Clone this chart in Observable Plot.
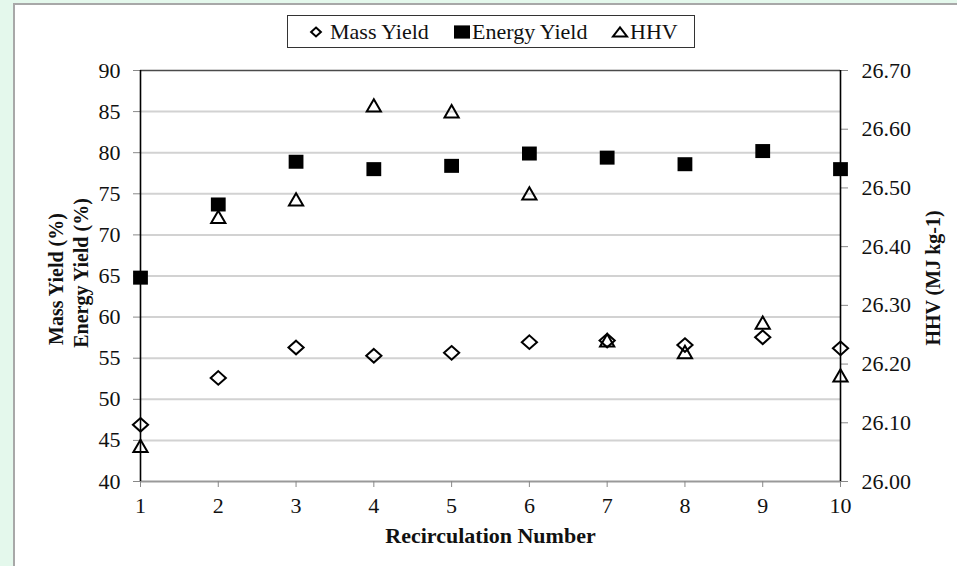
<!DOCTYPE html>
<html>
<head>
<meta charset="utf-8">
<script src="https://cdn.jsdelivr.net/npm/d3@7"></script>
<script src="https://cdn.jsdelivr.net/npm/@observablehq/plot@0.6"></script>
<style>
  html, body { margin:0; padding:0; width:957px; height:566px; overflow:hidden; background:#e4f8ec; }
  #panel { position:absolute; left:13px; top:3px; width:960px; height:580px; background:#fff;
           border-left:2px solid #a8a8a8; border-top:2px solid #a8a8a8; }
  #chart { position:absolute; left:0; top:0; }
  #chart text { font-family:"Liberation Serif","Times New Roman",serif; }
  #legend { position:absolute; left:287px; top:15px; width:406px; height:31px; border:1.5px solid #333; background:#fff;
            font-family:"Liberation Serif","Times New Roman",serif; font-size:22px; color:#111; }
  #legend .item { position:absolute; top:0; height:31px; line-height:31px; white-space:nowrap; }
  #legend svg { position:absolute; overflow:visible; }
</style>
</head>
<body>
<div id="panel"></div>
<div id="chart"></div>
<div id="legend"></div>
<script>
// ---- data ----
const rounds = [1, 2, 3, 4, 5, 6, 7, 8, 9, 10];
const massYield   = [46.9, 52.6, 56.3, 55.3, 55.65, 56.95, 57.15, 56.6, 57.55, 56.2];
const energyYield = [64.8, 73.7, 78.9, 78.0, 78.4, 79.9, 79.4, 78.6, 80.2, 78.0];
const hhv         = [26.06, 26.45, 26.48, 26.64, 26.63, 26.49, 26.24, 26.22, 26.27, 26.18];
const leftTicks  = [40, 45, 50, 55, 60, 65, 70, 75, 80, 85, 90];
const rightTicks = [26.0, 26.1, 26.2, 26.3, 26.4, 26.5, 26.6, 26.7];
const seriesNames = ["Mass Yield", "Energy Yield", "HHV"];

const leftDomain = [40, 90];
const rightDomain = [26.0, 26.7];
const toLeft = v => leftDomain[0] + (v - rightDomain[0]) * (leftDomain[1] - leftDomain[0]) / (rightDomain[1] - rightDomain[0]);
const fromLeft = v => rightDomain[0] + (v - leftDomain[0]) * (rightDomain[1] - rightDomain[0]) / (leftDomain[1] - leftDomain[0]);

const data = rounds.map((r, i) => ({r, mass: massYield[i], energy: energyYield[i], hhv: toLeft(hhv[i])}));

// marker shapes (the source figure is slightly wider than tall)
const symDiamond = {draw(ctx) { const w = 7.6, h = 6.8; ctx.moveTo(0, -h); ctx.lineTo(w, 0); ctx.lineTo(0, h); ctx.lineTo(-w, 0); ctx.closePath(); }};
const symSquare = {draw(ctx) { const w = 7.4, h = 7; ctx.moveTo(-w, -h); ctx.lineTo(w, -h); ctx.lineTo(w, h); ctx.lineTo(-w, h); ctx.closePath(); }};
const symTriangle = {draw(ctx) { ctx.moveTo(0, -6.5); ctx.lineTo(7.1, 5.8); ctx.lineTo(-7.1, 5.8); ctx.closePath(); }};

const serif = "'Liberation Serif', 'Times New Roman', serif";

const chart = Plot.plot({
  width: 957,
  height: 566,
  marginTop: 70,
  marginBottom: 85,
  marginLeft: 140,
  marginRight: 117,
  style: {fontFamily: serif, fontSize: "22px", color: "#111", background: "transparent", overflow: "visible"},
  x: {domain: [1, 10]},
  y: {domain: leftDomain},
  marks: [
    Plot.gridY(leftTicks.filter(d => d > 40 && d < 90), {stroke: "#d2d2d2", strokeWidth: 2, strokeOpacity: 1}),
    Plot.ruleY([90], {stroke: "#4a4a4a", strokeWidth: 1.5}),
    Plot.ruleY([40], {stroke: "#999", strokeWidth: 2}),
    Plot.axisY(leftTicks, {anchor: "left", tickSize: 7, tickPadding: 13, stroke: "#888", fill: "#111", label: null, fontSize: 22, fontFamily: serif, fontVariant: "normal"}),
    Plot.axisY(rightTicks.map(toLeft), {anchor: "right", tickSize: 7, tickPadding: 14, stroke: "#888", fill: "#111",
      tickFormat: d => fromLeft(d).toFixed(2), label: null, fontSize: 22, fontFamily: serif, fontVariant: "normal"}),
    Plot.axisX(rounds, {anchor: "bottom", tickSize: 6, tickPadding: 10, stroke: "#888", fill: "#111", label: null, fontSize: 22, fontFamily: serif, fontVariant: "normal"}),
    Plot.ruleX([1], {stroke: "#000", strokeWidth: 1.6}),
    Plot.ruleX([10], {stroke: "#000", strokeWidth: 1.6}),
    Plot.dot(data, {x: "r", y: "mass", symbol: symDiamond, r: 5, stroke: "#000", strokeWidth: 2, fill: "none"}),
    Plot.dot(data, {x: "r", y: "energy", symbol: symSquare, r: 5, fill: "#000", stroke: "none"}),
    Plot.dot(data, {x: "r", y: "hhv", symbol: symTriangle, r: 5, stroke: "#000", strokeWidth: 2, fill: "none"}),
    Plot.text(["Recirculation Number"], {text: d => d, frameAnchor: "bottom", lineAnchor: "middle", textAnchor: "middle", dy: 54, fontWeight: "bold", fontSize: 22, fontFamily: serif, fill: "#111"}),
    Plot.text(["Mass Yield (%)"], {text: d => d, frameAnchor: "left", lineAnchor: "middle", textAnchor: "middle", dx: -84, dy: 3, rotate: -90, fontWeight: "bold", fontSize: 20, fontFamily: serif, fill: "#111"}),
    Plot.text(["Energy Yield (%)"], {text: d => d, frameAnchor: "left", lineAnchor: "middle", textAnchor: "middle", dx: -59, dy: -3, rotate: -90, fontWeight: "bold", fontSize: 20, fontFamily: serif, fill: "#111"}),
    Plot.text(["HHV (MJ kg-1)"], {text: d => d, frameAnchor: "right", lineAnchor: "middle", textAnchor: "middle", dx: 93, dy: 2, rotate: -90, fontWeight: "bold", fontSize: 20, fontFamily: serif, fill: "#111"})
  ]
});
document.getElementById("chart").appendChild(chart);

// legend (positions relative to the legend box)
const legend = document.getElementById("legend");
const legendItems = [
  {name: seriesNames[0], sx: 28, textX: 42,
   svg: '<polygon points="0,-4.5 4.9,0 0,4.5 -4.9,0" fill="none" stroke="#000" stroke-width="2"/>'},
  {name: seriesNames[1], sx: 174, textX: 184,
   svg: '<rect x="-8" y="-6.6" width="16" height="13.2" fill="#000"/>'},
  {name: seriesNames[2], sx: 332, textX: 342,
   svg: '<polygon points="0,-4.6 7,4.4 -7,4.4" fill="none" stroke="#000" stroke-width="2"/>'}
];
legendItems.forEach(it => {
  const s = document.createElementNS("http://www.w3.org/2000/svg", "svg");
  s.setAttribute("width", 1); s.setAttribute("height", 1);
  s.style.left = it.sx + "px"; s.style.top = "16px";
  s.innerHTML = it.svg;
  legend.appendChild(s);
  const t = document.createElement("span");
  t.className = "item";
  t.style.left = it.textX + "px";
  t.textContent = it.name;
  legend.appendChild(t);
});
</script>
</body>
</html>
